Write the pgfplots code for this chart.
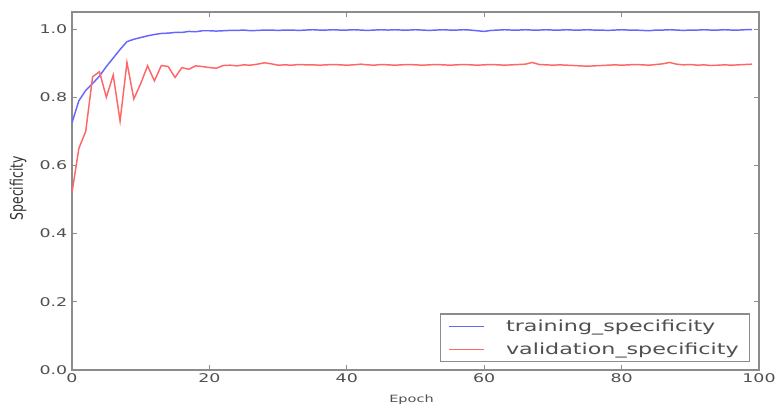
\documentclass[border=0pt]{standalone}
\usepackage{fontspec}
\setmainfont[FakeStretch=1.45]{DejaVu Sans}
\newfontfamily\plainfont{DejaVu Sans}
\usepackage{pgfplots}
\pgfplotsset{compat=1.18}
\definecolor{axgray}{RGB}{140,140,140}
\definecolor{txtgray}{RGB}{80,80,80}

\pgfplotstableread{
ep train val
0 0.725 0.52
1 0.790 0.65
2 0.820 0.70
3 0.840 0.86
4 0.862 0.875
5 0.890 0.80
6 0.915 0.865
7 0.940 0.73
8 0.963 0.902
9 0.970 0.795
10 0.975 0.840
11 0.980 0.892
12 0.984 0.848
13 0.987 0.893
14 0.988 0.890
15 0.990 0.858
16 0.990 0.887
17 0.993 0.882
18 0.992 0.892
19 0.995 0.890
20 0.995 0.887
21 0.994 0.885
22 0.995 0.893
23 0.996 0.894
24 0.996 0.892
25 0.997 0.895
26 0.995 0.894
27 0.996 0.897
28 0.997 0.901
29 0.997 0.898
30 0.996 0.894
31 0.997 0.895
32 0.997 0.894
33 0.996 0.896
34 0.997 0.895
35 0.998 0.895
36 0.997 0.894
37 0.997 0.895
38 0.998 0.896
39 0.997 0.895
40 0.997 0.894
41 0.998 0.895
42 0.997 0.897
43 0.996 0.895
44 0.997 0.894
45 0.998 0.896
46 0.997 0.895
47 0.998 0.894
48 0.997 0.895
49 0.997 0.896
50 0.998 0.895
51 0.997 0.894
52 0.996 0.895
53 0.997 0.896
54 0.998 0.895
55 0.997 0.894
56 0.997 0.895
57 0.998 0.896
58 0.997 0.895
59 0.995 0.894
60 0.993 0.895
61 0.996 0.896
62 0.997 0.895
63 0.998 0.894
64 0.997 0.895
65 0.997 0.896
66 0.998 0.897
67 0.997 0.902
68 0.997 0.896
69 0.998 0.895
70 0.997 0.894
71 0.997 0.895
72 0.998 0.894
73 0.997 0.893
74 0.997 0.892
75 0.998 0.891
76 0.997 0.892
77 0.997 0.893
78 0.996 0.894
79 0.997 0.895
80 0.998 0.894
81 0.997 0.895
82 0.997 0.896
83 0.996 0.895
84 0.995 0.894
85 0.997 0.896
86 0.997 0.898
87 0.998 0.902
88 0.997 0.897
89 0.996 0.895
90 0.997 0.896
91 0.997 0.894
92 0.998 0.895
93 0.997 0.893
94 0.997 0.894
95 0.998 0.895
96 0.997 0.894
97 0.997 0.895
98 0.998 0.896
99 0.998 0.897
}\datatable

\begin{document}
\begin{tikzpicture}
\useasboundingbox (-54pt,-27.75pt) rectangle (528.75pt,277.5pt);
\begin{axis}[
  at={(0,0)}, anchor=south west,
  width=515.25pt, height=268.5pt,
  scale only axis,
  xmin=0, xmax=100, ymin=0, ymax=1.05,
  xtick={0,20,40,60,80,100},
  ytick={0,0.2,0.4,0.6,0.8,1.0},
  yticklabel style={/pgf/number format/fixed, /pgf/number format/fixed zerofill, /pgf/number format/precision=1},
  /pgf/number format/assume math mode=true,
  tick align=inside,
  tick pos=both,
  major tick length=4pt,
  every tick/.style={axgray, line width=0.8pt},
  axis line style={axgray, line width=1.5pt},
  tick label style={font=\fontsize{9}{10}\selectfont, text=txtgray},
  xticklabel style={yshift=1pt},
  xlabel={Epoch},
  ylabel={\plainfont\fontsize{13}{14}\selectfont Specificity},
  xlabel style={font=\fontsize{7.5}{9}\selectfont, text=txtgray, at={(axis description cs:0.5,0)}, anchor=center, yshift=-22pt, xshift=-3pt},
  ylabel style={text=black!80, at={(axis description cs:0,0.5)}, anchor=center, yshift=40.5pt, xshift=2pt, xscale=0.72},
  legend cell align=left,
  legend style={draw=axgray, line width=1pt, font=\fontsize{11.5}{14}\selectfont, text=txtgray,
    at={(1,0)}, anchor=south east, xshift=-6.75pt, yshift=6pt,
    inner xsep=6pt, inner ysep=2pt, row sep=3pt,
    /tikz/every odd column/.append style={column sep=14pt}},
  legend image code/.code={\draw[#1, line width=1pt] (0pt,0pt) -- (26pt,0pt);},
]
\addplot[color=blue!60, line width=1.1pt] table[x=ep, y=train] {\datatable};
\addlegendentry{training\_specificity}
\addplot[color=red!60, line width=1.1pt] table[x=ep, y=val] {\datatable};
\addlegendentry{validation\_specificity}
\end{axis}
\end{tikzpicture}
\end{document}
